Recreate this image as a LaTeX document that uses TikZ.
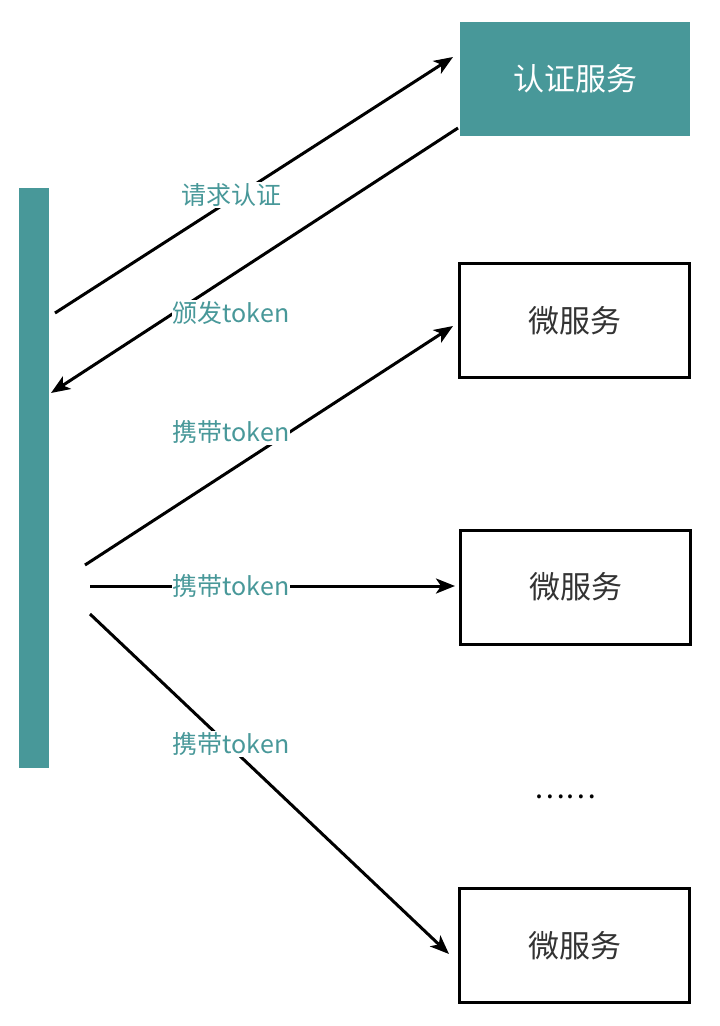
\documentclass[tikz,border=0pt]{standalone}
\usepackage{fontspec}
\newfontfamily\cjk{Noto Sans CJK SC}
\usetikzlibrary{arrows.meta}
\definecolor{teal1}{RGB}{72,152,153}
\tikzset{
  svc/.style={draw=black, line width=3pt, minimum width=230pt, minimum height=114pt, inner sep=0pt,
    font=\cjk\fontsize{31}{36}\selectfont, text=black!80},
  authbox/.style={fill=teal1, minimum width=230pt, minimum height=114pt, inner sep=0pt,
    font=\cjk\fontsize{31}{36}\selectfont, text=white},
  conn/.style={line width=3pt, -{Stealth[length=19pt,width=15pt,inset=5pt]}},
  lbl/.style={fill=white, inner sep=1pt, text=teal1, font=\cjk\fontsize{25}{30}\selectfont}
}
\begin{document}
\begin{tikzpicture}[x=1pt,y=-1pt]
\useasboundingbox (0,0) rectangle (720,1026);
% bar
\node[fill=teal1, minimum width=30pt, minimum height=580pt, inner sep=0pt] (bar) at (34,478) {};
% boxes
\node[authbox] (auth) at (575,79) {认证服务};
\node[svc] (ms1) at (574.5,320.5) {微服务};
\node[svc] (ms2) at (575.5,587) {微服务};
\node[svc] (ms3) at (574.5,945.5) {微服务};
\node[font=\cjk\fontsize{29}{34}\selectfont] (dots) at (565,797) {……};
% endpoints
\coordinate (reqS) at (55,313);
\coordinate (reqE) at (453,57);
\coordinate (issS) at (458,128);
\coordinate (issE) at (51,393);
\coordinate (c1S) at (85,565);
\coordinate (c1E) at (453,326);
\coordinate (c2S) at (90,586);
\coordinate (c2E) at (455,586);
\coordinate (c3S) at (90,614);
\coordinate (c3E) at (449,954);
% connectors
\draw[conn] (reqS) -- (reqE);
\draw[conn] (issS) -- (issE);
\draw[conn] (c1S) -- (c1E);
\draw[conn] (c2S) -- (c2E);
\draw[conn] (c3S) -- (c3E);
% labels
\node[lbl] (l1) at (231,195) {请求认证};
\node[lbl] (l2) at (231,313) {颁发token};
\node[lbl] (l3) at (231,432) {携带token};
\node[lbl] (l4) at (231,586) {携带token};
\node[lbl] (l5) at (231,744) {携带token};
\end{tikzpicture}
\end{document}
